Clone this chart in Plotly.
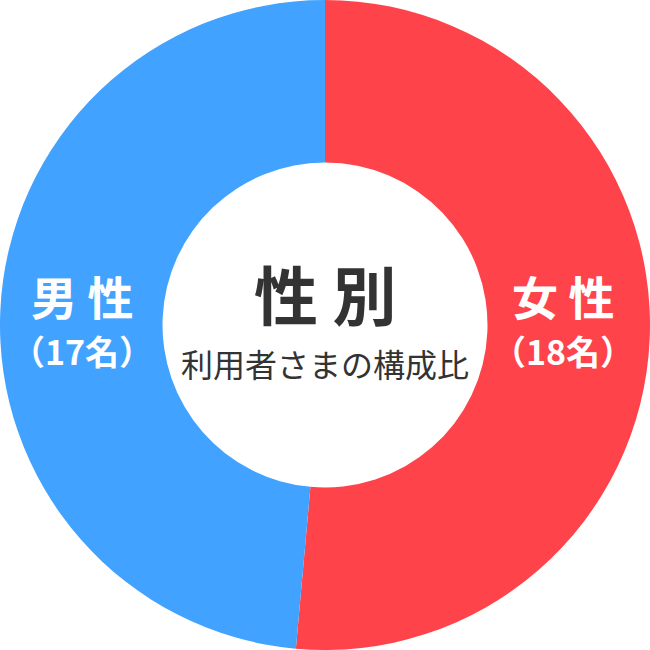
import plotly.graph_objects as go

# data
labels = ["女性", "男性"]
counts = [18, 17]
colors = ["#FF434A", "#42A2FF"]

title_text = "性 別"
sub_text = "利用者さまの構成比"

FONT = "Noto Sans CJK JP"

fig = go.Figure()
fig.add_trace(go.Pie(
    labels=labels,
    values=counts,
    hole=0.5,
    sort=False,
    direction="clockwise",
    rotation=0,
    marker=dict(colors=colors, line=dict(width=0)),
    textinfo="none",
    hoverinfo="label+value",
    domain=dict(x=[0, 1], y=[0, 1]),
))

# slice labels
side_x = {"女性": 0.866, "男性": 0.126}
for lab, n in zip(labels, counts):
    fig.add_annotation(x=side_x[lab], y=0.546, xref="paper", yref="paper",
                       xanchor="center", yanchor="middle",
                       text="<b>" + lab[0] + " " + lab[1] + "</b>", showarrow=False,
                       font=dict(family=FONT, size=46, color="white"))
    fig.add_annotation(x=side_x[lab], y=0.461, xref="paper", yref="paper",
                       xanchor="center", yanchor="middle",
                       text="<b>（" + str(n) + "名）</b>", showarrow=False,
                       font=dict(family=FONT, size=34, color="white"))

# centre text
fig.add_annotation(x=0.5, y=0.551, xref="paper", yref="paper",
                   xanchor="center", yanchor="middle",
                   text="<b>" + title_text + "</b>", showarrow=False,
                   font=dict(family=FONT, size=64, color="#333333"))
fig.add_annotation(x=0.5, y=0.442, xref="paper", yref="paper",
                   xanchor="center", yanchor="middle",
                   text=sub_text, showarrow=False,
                   font=dict(family=FONT, size=32, color="#333333"))

fig.update_layout(
    width=650, height=650,
    margin=dict(l=0, r=0, t=0, b=0),
    showlegend=False,
    paper_bgcolor="white",
    plot_bgcolor="white",
)

# drop the default page margin so the chart sits at the window corner
fig.write_html("out.html", config={"displayModeBar": False},
               post_script="document.body.style.margin='0';")
